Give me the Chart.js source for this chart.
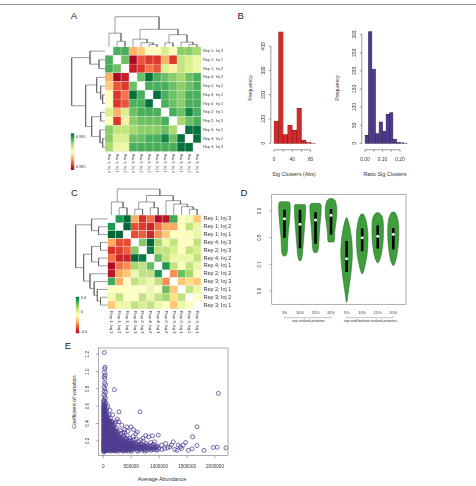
<!DOCTYPE html>
<html><head><meta charset="utf-8">
<script src="https://cdn.jsdelivr.net/npm/chart.js@4.4.0/dist/chart.umd.min.js"></script>
<style>
html,body{margin:0;padding:0;background:#fff;}
body{width:476px;height:486px;position:relative;overflow:hidden;font-family:"Liberation Sans",Arial,sans-serif;}
canvas{position:absolute;}
.t{position:absolute;white-space:nowrap;color:#333;transform:translate(-50%,-50%);line-height:1;}
.r{transform:translate(-50%,-50%) rotate(-90deg);}
.L{font-size:9.5px;color:#222;}
</style></head><body>
<div style="position:absolute;left:0;top:4px;width:476px;height:1px;background:#8f8f8f"></div>
<div class="t L" style="left:74px;top:15.5px">A</div>
<div class="t L" style="left:240.7px;top:15.5px">B</div>
<div class="t L" style="left:74.5px;top:193px">C</div>
<div class="t L" style="left:244px;top:193.3px">D</div>
<div class="t L" style="left:68px;top:346px">E</div>
<div class="t r" style="left:251px;top:87.5px;font-size:5.4px">Frequency</div>
<div class="t" style="left:294px;top:174.5px;font-size:5.4px">Sig Clusters (Abs)</div>
<div class="t r" style="left:338px;top:87.5px;font-size:5.4px">Frequency</div>
<div class="t" style="left:385px;top:174.6px;font-size:5.4px">Ratio Sig Clusters</div>
<div class="t r" style="left:75px;top:402px;font-size:5.4px">Coefficient of variation</div>
<div class="t" style="left:162px;top:480px;font-size:5.4px">Average Abundance</div>
<div class="t" style="left:308.5px;top:321.5px;font-size:3.8px">top ranked proteins</div>
<div class="t" style="left:370.5px;top:321.5px;font-size:3.8px">top and bottom ranked proteins</div>
<script>
const FONT = '"Liberation Sans", Arial, sans-serif';
Chart.defaults.font.family = FONT;

// ================= DATA =================
// Panel A: correlation heatmap (row order = column order)
const labelsA = ['Rep 1;  Inj 3','Rep 1;  Inj 1','Rep 1;  Inj 2','Rep 4;  Inj 3','Rep 2;  Inj 2','Rep 4;  Inj 2','Rep 4;  Inj 1','Rep 2;  Inj 1','Rep 2;  Inj 3','Rep 3;  Inj 1','Rep 3;  Inj 2','Rep 3;  Inj 3'];
const corrAUpper = [
 [0.9942,0.9942,0.9876,0.9882,0.9900,0.9900,0.9912,0.9900,0.9930,0.9930,0.9924],
 [0.9936,0.9840,0.9858,0.9852,0.9852,0.9876,0.9852,0.9918,0.9912,0.9906],
 [0.9846,0.9852,0.9864,0.9858,0.9912,0.9894,0.9918,0.9912,0.9906],
 [0.9936,0.9960,0.9942,0.9936,0.9930,0.9924,0.9936,0.9942],
 [0.9942,0.9942,0.9942,0.9936,0.9930,0.9936,0.9942],
 [0.9960,0.9942,0.9936,0.9930,0.9942,0.9942],
 [0.9942,0.9936,0.9930,0.9942,0.9942],
 [0.9942,0.9936,0.9954,0.9942],
 [0.9924,0.9936,0.9942],
 [0.9960,0.9960],
 [0.9960]
];
const keyRangeA = [0.9838, 0.9962];
const keyTicksA = [0.985, 0.995];
const keyTickLabelsA = ['0.985', '0.995'];
// dendrogram A (hclust style merges: negative = leaf in display order)
const treeAMerges = [[-6,-7],[-11,-12],[-5,1],[-8,-9],[-10,2],[-2,-3],[-4,3],[4,5],[-1,6],[7,8],[9,10]];
const treeAHeights = [0.07,0.07,0.13,0.13,0.15,0.18,0.25,0.40,0.45,0.58,1.0];

// Panel B: histograms
const histAbsMid = [5,15,25,35,45,55,65,75,85];
const histAbsCount = [92,459,36,75,54,144,13,4,1];
const histAbsXTicks = [0,20,40,60,80];
const histAbsXLabels = ['0','','40','','80'];
const histAbsYTicks = [0,100,200,300,400];
const histAbsYLabels = ['0','100','200','300','400'];
const histRatioMid = [0.01,0.03,0.05,0.07,0.09,0.11,0.13,0.15,0.17,0.19,0.21,0.23];
const histRatioCount = [22,308,205,27,59,34,80,85,12,3,2,1];
const histRatioXTicks = [0,0.05,0.10,0.15,0.20];
const histRatioXLabels = ['0.00','','0.10','','0.20'];
const histRatioYTicks = [0,50,100,150,200,250,300];
const histRatioYLabels = ['0','50','100','150','200','250','300'];

// Panel C: correlation heatmap
const labelsC = ['Rep 1; Inj 3','Rep 1; Inj 2','Rep 1; Inj 1','Rep 4; Inj 3','Rep 2; Inj 3','Rep 4; Inj 2','Rep 4; Inj 1','Rep 2; Inj 2','Rep 3; Inj 3','Rep 2; Inj 1','Rep 3; Inj 2','Rep 3; Inj 1'];
const corrCUpper = [
 [0.34,0.45,-0.31,-0.52,-0.41,-0.60,-0.58,0.29,-0.09,-0.06,-0.25],
 [0.45,-0.47,-0.50,-0.55,-0.41,-0.31,-0.31,-0.09,0.07,-0.04],
 [-0.47,-0.44,-0.55,-0.36,-0.25,-0.09,-0.09,-0.09,-0.04],
 [0.18,0.45,0.13,-0.04,0.07,-0.09,-0.09,0.07],
 [0.40,0.07,0.07,0.02,-0.09,0.07,0.02],
 [0.23,0.07,-0.04,-0.04,-0.04,0.07],
 [0.34,0.07,-0.09,0.07,-0.04],
 [-0.36,0.23,0.13,-0.09],
 [-0.25,-0.20,-0.25],
 [0.07,-0.04],
 [-0.09]
];
const keyRangeC = [-0.63, 0.45];
const keyTicksC = [-0.6, 0, 0.4];
const keyTickLabelsC = ['-0.6', '0', '0.4'];
const treeCMerges = [[-2,-3],[-1,1],[-4,-5],[-6,-7],[3,4],[-11,-12],[-10,6],[-9,7],[-8,8],[5,9],[2,10]];
const treeCHeights = [0.28,0.50,0.22,0.28,0.50,0.22,0.32,0.42,0.55,0.75,1.0];

// Panel D: violins
const violinPos = [1,2,3,4,5,6,7,8];
const violinLabels = ['5%','10%','15%','20%','5%','10%','15%','20%'];
const violinLevels = [
 [0.731,0.737,0.75,0.77,0.80,0.83,0.86,0.89,0.915,0.93,0.934],
 [0.7125,0.72,0.74,0.77,0.80,0.83,0.86,0.89,0.91,0.92,0.924],
 [0.744,0.75,0.765,0.79,0.82,0.85,0.88,0.905,0.92,0.9275],
 [0.784,0.79,0.81,0.84,0.87,0.89,0.91,0.925,0.94,0.946],
 [0.559,0.58,0.61,0.64,0.68,0.72,0.75,0.79,0.82,0.85,0.874],
 [0.665,0.68,0.70,0.73,0.76,0.79,0.82,0.85,0.87,0.8875],
 [0.706,0.72,0.74,0.77,0.80,0.83,0.86,0.88,0.8925],
 [0.696,0.71,0.73,0.76,0.79,0.82,0.85,0.875,0.895]
];
const violinHalfWidth = [
 [0.05,0.14,0.18,0.20,0.22,0.27,0.32,0.36,0.37,0.35,0.30],
 [0.02,0.10,0.16,0.20,0.24,0.28,0.32,0.35,0.36,0.35,0.32],
 [0.08,0.15,0.19,0.22,0.25,0.29,0.34,0.36,0.36,0.30],
 [0.18,0.21,0.22,0.27,0.34,0.37,0.37,0.33,0.25,0.12],
 [0.02,0.07,0.14,0.22,0.30,0.36,0.37,0.33,0.26,0.16,0.03],
 [0.03,0.12,0.20,0.30,0.35,0.37,0.36,0.30,0.22,0.08],
 [0.03,0.15,0.24,0.32,0.36,0.37,0.35,0.28,0.10],
 [0.03,0.14,0.22,0.30,0.34,0.36,0.34,0.27,0.10]
];
const violinMedian = [0.871,0.850,0.866,0.884,0.721,0.800,0.805,0.8125];
const violinQ1 = [0.800,0.760,0.777,0.812,0.671,0.749,0.759,0.756];
const violinQ3 = [0.905,0.905,0.895,0.907,0.787,0.834,0.846,0.836];
const violinYTicks = [0.6,0.7,0.8,0.9];
const violinYLabels = ['0.6','0.7','0.8','0.9'];

// Panel E: scatter (average abundance, coefficient of variation)
const scatterE = [
 [3000,0.12],[5000,0.18],[8000,0.25],[10000,0.31],[12000,0.38],[15000,0.44],[18000,0.5],[20000,0.56],[22000,0.61],[6000,0.64],
 [4000,0.09],[7000,0.15],[9000,0.21],[11000,0.28],[13000,0.34],[16000,0.41],[19000,0.47],[21000,0.53],[23000,0.58],[14000,0.62],
 [2000,0.23],[5000,0.33],[8000,0.43],[11000,0.52],[14000,0.57],[17000,0.1],[20000,0.16],[24000,0.22],[3000,0.4],[6000,0.48],
 [9000,0.55],[12000,0.14],[16000,0.27],[19000,0.35],[22000,0.4],[25000,0.46],[4000,0.59],[7000,0.37],[10000,0.11],[13000,0.2],
 [18000,0.3],[23000,0.12],[2000,0.5],[15000,0.65],[9000,0.6],
 [18000,1.22],[30000,1.05],[25000,1.03],[20000,0.99],[33000,0.96],[14000,0.94],[28000,0.92],[22000,0.87],[40000,0.85],[12000,0.82],
 [30000,0.8],[17000,0.77],[44000,0.76],[9000,0.73],[26000,0.71],[36000,0.69],[7000,0.67],[21000,0.66],[48000,0.64],[35000,0.62],
 [27000,0.1],[30000,0.15],[33000,0.2],[36000,0.26],[40000,0.31],[43000,0.36],[46000,0.42],[50000,0.47],[54000,0.52],[58000,0.13],
 [28000,0.32],[31000,0.38],[34000,0.44],[38000,0.5],[42000,0.55],[45000,0.09],[48000,0.18],[52000,0.24],[56000,0.3],[29000,0.57],
 [32000,0.27],[37000,0.12],[41000,0.22],[47000,0.34],[53000,0.39],[57000,0.44],[35000,0.48],[44000,0.28],[51000,0.11],[59000,0.21],
 [39000,0.4],[26000,0.52],
 [1000,0.15],[2500,0.28],[4500,0.36],[6500,0.2],[8500,0.32],[10500,0.46],[12500,0.26],[14500,0.09],[16500,0.33],[18500,0.22],
 [20500,0.44],[22500,0.29],[24500,0.36],[26500,0.18],[28500,0.25],[30500,0.43],[32500,0.34],[34500,0.09],[36500,0.37],[38500,0.16],
 [40500,0.46],[42500,0.13],[44500,0.21],[46500,0.5],[48500,0.3],[50500,0.16],[52500,0.44],[54500,0.2],[56500,0.37],[58500,0.27],
 [1500,0.44],[3500,0.53],[5500,0.07],[7500,0.56],[9500,0.17],[11500,0.61],[13500,0.48],[15500,0.54],[17500,0.59],[19500,0.08],
 [21500,0.1],[23500,0.5],[25500,0.3],[27500,0.4],[29500,0.08],[31500,0.5],[33500,0.55],[35500,0.3],[37500,0.24],[39500,0.09],
 [41500,0.35],[43500,0.47],[45500,0.16],[47500,0.26],[49500,0.38],[51500,0.33],[53500,0.1],[55500,0.48],[57500,0.17],[59500,0.41],
 [62000,0.09],[65000,0.14],[68000,0.19],[71000,0.25],[74000,0.3],[77000,0.35],[80000,0.4],[84000,0.45],[88000,0.12],[92000,0.17],
 [96000,0.23],[99000,0.28],[63000,0.33],[67000,0.38],[72000,0.43],[76000,0.48],[81000,0.1],[85000,0.21],[90000,0.32],[94000,0.37],
 [98000,0.15],[70000,0.22],[79000,0.27],[87000,0.42],[64000,0.5],
 [61000,0.2],[64000,0.27],[66000,0.42],[69000,0.11],[71000,0.34],[73000,0.17],[75000,0.39],[78000,0.13],[80000,0.24],[82000,0.31],
 [85000,0.09],[86000,0.36],[89000,0.2],[91000,0.26],[93000,0.11],[95000,0.43],[97000,0.3],[100000,0.19],[101000,0.36],[103000,0.25],
 [102000,0.09],[106000,0.14],[110000,0.2],[114000,0.25],[118000,0.31],[122000,0.36],[126000,0.41],[131000,0.11],[135000,0.17],[139000,0.23],
 [143000,0.28],[147000,0.33],[104000,0.38],[109000,0.44],[116000,0.12],[124000,0.22],[133000,0.3],[141000,0.39],[149000,0.13],[112000,0.29],
 [128000,0.46],[137000,0.08],[145000,0.19],
 [105000,0.31],[107000,0.1],[108000,0.4],[111000,0.16],[113000,0.35],[115000,0.21],[117000,0.43],[119000,0.09],[120000,0.17],[121000,0.27],
 [123000,0.13],[125000,0.32],[127000,0.19],[129000,0.26],[130000,0.38],[132000,0.14],[134000,0.22],[136000,0.35],[138000,0.29],[140000,0.12],
 [142000,0.18],[144000,0.42],[146000,0.24],[148000,0.1],[150000,0.3],
 [152000,0.1],[156000,0.16],[160000,0.22],[165000,0.27],[170000,0.33],[175000,0.38],[180000,0.12],[185000,0.18],[190000,0.24],[195000,0.3],
 [199000,0.14],[158000,0.35],[167000,0.09],[178000,0.26],[188000,0.36],[163000,0.42],[172000,0.2],[193000,0.09],
 [153000,0.2],[155000,0.29],[157000,0.12],[159000,0.4],[161000,0.15],[162000,0.31],[164000,0.18],[166000,0.24],[168000,0.36],[169000,0.12],
 [171000,0.27],[173000,0.16],[174000,0.3],[176000,0.09],[177000,0.21],[179000,0.33],[181000,0.19],[183000,0.28],[184000,0.1],[186000,0.23],
 [187000,0.14],[189000,0.31],[191000,0.17],[192000,0.27],[194000,0.2],[196000,0.11],[198000,0.25],
 [203000,0.1],[208000,0.15],[213000,0.21],[218000,0.26],[224000,0.31],[230000,0.12],[236000,0.18],[242000,0.23],[248000,0.28],[254000,0.09],
 [258000,0.16],[211000,0.34],[221000,0.08],[233000,0.35],[246000,0.13],[226000,0.2],[205000,0.4],
 [201000,0.18],[204000,0.28],[206000,0.12],[209000,0.23],[212000,0.09],[215000,0.16],[217000,0.31],[219000,0.11],[222000,0.24],[225000,0.14],
 [228000,0.27],[231000,0.17],[234000,0.22],[237000,0.1],[240000,0.3],[243000,0.15],[245000,0.2],[249000,0.12],[251000,0.24],[253000,0.17],
 [256000,0.21],[259000,0.12],
 [263000,0.1],[270000,0.15],[277000,0.2],[284000,0.25],[291000,0.11],[298000,0.17],[305000,0.22],[312000,0.28],[319000,0.12],[326000,0.09],
 [267000,0.3],[281000,0.14],[295000,0.32],[309000,0.16],[323000,0.2],[274000,0.08],[288000,0.19],[302000,0.1],[276000,0.42],
 [262000,0.26],[265000,0.18],[268000,0.12],[272000,0.23],[275000,0.1],[279000,0.17],[283000,0.21],[286000,0.13],[290000,0.24],[293000,0.16],
 [297000,0.12],[300000,0.19],
 [334000,0.1],[342000,0.15],[350000,0.2],[358000,0.26],[366000,0.11],[374000,0.17],[382000,0.22],[390000,0.09],[398000,0.14],[406000,0.19],
 [414000,0.12],[346000,0.29],[362000,0.08],[378000,0.3],[394000,0.24],[410000,0.1],[338000,0.23],[386000,0.13],
 [306000,0.13],[311000,0.18],[315000,0.1],[318000,0.24],[322000,0.15],[328000,0.18],[332000,0.13],[336000,0.2],[340000,0.11],[345000,0.17],
 [349000,0.09],[353000,0.14],[356000,0.21],[360000,0.12],[364000,0.17],[369000,0.14],[372000,0.1],[376000,0.2],[380000,0.15],[384000,0.11],
 [388000,0.18],[392000,0.13],[396000,0.1],[400000,0.17],[404000,0.12],[408000,0.22],[412000,0.15],[416000,0.09],[420000,0.14],
 [425000,0.1],[435000,0.15],[445000,0.2],[455000,0.11],[465000,0.17],[475000,0.23],[485000,0.09],[495000,0.14],[505000,0.19],[515000,0.12],
 [430000,0.26],[450000,0.08],[470000,0.13],[490000,0.21],[510000,0.08],[440000,0.31],
 [428000,0.18],[433000,0.11],[438000,0.13],[443000,0.16],[448000,0.12],[453000,0.19],[458000,0.14],[463000,0.1],[468000,0.2],[473000,0.12],
 [478000,0.16],[483000,0.13],[488000,0.17],[493000,0.11],[498000,0.1],[503000,0.15],[508000,0.12],[513000,0.17],
 [525000,0.1],[540000,0.16],[555000,0.21],[570000,0.11],[585000,0.17],[600000,0.09],[615000,0.14],[630000,0.19],[645000,0.1],[535000,0.25],
 [560000,0.13],[590000,0.22],[620000,0.08],[640000,0.15],[580000,0.28],
 [520000,0.14],[528000,0.12],[533000,0.18],[545000,0.11],[550000,0.14],[565000,0.16],[575000,0.13],[595000,0.12],[605000,0.16],[625000,0.11],
 [635000,0.13],[650000,0.15],
 [660000,0.11],[675000,0.16],[690000,0.09],[705000,0.14],[720000,0.19],[735000,0.1],[750000,0.13],[765000,0.17],[780000,0.09],[795000,0.12],
 [670000,0.21],[710000,0.23],[745000,0.08],[685000,0.13],
 [665000,0.13],[680000,0.11],[695000,0.16],[700000,0.12],[715000,0.11],[725000,0.15],[740000,0.12],[755000,0.1],[770000,0.14],[785000,0.12],
 [800000,0.15],[825000,0.12],[845000,0.11],[865000,0.14],[885000,0.1],[905000,0.13],[930000,0.12],[950000,0.1],[975000,0.14],
 [815000,0.1],[835000,0.14],[855000,0.09],[875000,0.12],[895000,0.16],[915000,0.1],[940000,0.13],[965000,0.09],[990000,0.11],[850000,0.18],
 [197000,0.79],[281000,0.535],[657000,0.535],[496000,0.36],[2060000,0.748],[1678000,0.362],[1600000,0.246],[2197000,0.119],[1970000,0.123],[2040000,0.127],
 [1803000,0.089],[1678000,0.145],[1590000,0.107],[1475000,0.181],[1253000,0.188],[1117000,0.169],[985000,0.266],[881000,0.258],[811000,0.246],[917000,0.188],
 [1045000,0.15],[1190000,0.13],[1340000,0.15],[1400000,0.11],[1280000,0.1],[1100000,0.11],[955000,0.13],[1050000,0.1],[1150000,0.12],[1220000,0.15],
 [1320000,0.09],[1380000,0.13],[1520000,0.09],[1430000,0.15],[760000,0.26],[610000,0.3],[540000,0.33],[420000,0.36],[330000,0.38],[250000,0.45],
 [170000,0.5],[120000,0.55],[80000,0.6],[60000,0.58],[100000,0.5],[230000,0.42],[380000,0.33]
];
const scatterXTicks = [0,500000,1000000,1500000,2000000];
const scatterXLabels = ['0','500000','1000000','1500000','2000000'];
const scatterYTicks = [0.2,0.4,0.6,0.8,1.0,1.2];
const scatterYLabels = ['0.2','0.4','0.6','0.8','1.0','1.2'];

// ================= HELPERS =================
const RDYLGN = ['#a50026','#d73027','#f46d43','#fdae61','#fee08b','#ffffbf','#d9ef8b','#a6d96a','#66bd63','#1a9850','#006837'];
function hexRgb(h){return [parseInt(h.slice(1,3),16),parseInt(h.slice(3,5),16),parseInt(h.slice(5,7),16)];}
function ramp(t){
  t = Math.max(0, Math.min(1, t));
  const p = t*(RDYLGN.length-1); const i = Math.min(Math.floor(p), RDYLGN.length-2); const f = p-i;
  const a = hexRgb(RDYLGN[i]), b = hexRgb(RDYLGN[i+1]);
  return 'rgb(' + a.map((v,k)=>Math.round(v+(b[k]-v)*f)).join(',') + ')';
}
function fullMatrix(upper){
  const n = upper.length+1;
  const m = Array.from({length:n},()=>Array(n).fill(null));
  upper.forEach((row,i)=>row.forEach((v,k)=>{const j=i+1+k; m[i][j]=v; m[j][i]=v;}));
  return m;
}

const rPlugin = {
  id:'rdraw',
  afterDraw(chart){
    const o = chart.options.plugins.rdraw; if(!o) return;
    const ctx = chart.ctx, a = chart.chartArea;
    ctx.save();
    if (o.box){ ctx.strokeStyle=o.box; ctx.lineWidth=0.7; ctx.strokeRect(a.left, a.top, a.right-a.left, a.bottom-a.top); }
    (o.axes||[]).forEach(ax=>{
      const sc = chart.scales[ax.scale];
      const pos = ax.values.map(v=>sc.getPixelForValue(v));
      ctx.strokeStyle = ax.color||'#555'; ctx.lineWidth = ax.lw||0.6; ctx.fillStyle = ax.textColor||'#333';
      ctx.font = ax.font;
      if (ax.side==='bottom'){
        const y0 = a.bottom + (ax.offset||0);
        if (ax.line){ ctx.beginPath(); ctx.moveTo(pos[0],y0); ctx.lineTo(pos[pos.length-1],y0); ctx.stroke(); }
        if (ax.tick){ ctx.beginPath(); pos.forEach(p=>{ctx.moveTo(p,y0); ctx.lineTo(p,y0+ax.tick);}); ctx.stroke(); }
        (ax.labels||[]).forEach((t,i)=>{ if(!t) return;
          if (ax.rot){ ctx.save(); ctx.translate(pos[i], y0+ax.gap); ctx.rotate(Math.PI/2); ctx.textAlign='left'; ctx.textBaseline='middle'; ctx.fillText(t,0,0); ctx.restore(); }
          else { ctx.textAlign='center'; ctx.textBaseline='middle'; ctx.fillText(t,pos[i],y0+ax.gap); }
        });
      } else if (ax.side==='left'){
        const x0 = a.left - (ax.offset||0);
        if (ax.line){ ctx.beginPath(); ctx.moveTo(x0,pos[0]); ctx.lineTo(x0,pos[pos.length-1]); ctx.stroke(); }
        if (ax.tick){ ctx.beginPath(); pos.forEach(p=>{ctx.moveTo(x0,p); ctx.lineTo(x0-ax.tick,p);}); ctx.stroke(); }
        (ax.labels||[]).forEach((t,i)=>{ if(!t) return;
          ctx.save(); ctx.translate(x0-ax.gap, pos[i]); ctx.rotate(-Math.PI/2); ctx.textAlign='center'; ctx.textBaseline='middle'; ctx.fillText(t,0,0); ctx.restore();
        });
      } else if (ax.side==='right'){
        const x0 = a.right + (ax.offset||0);
        if (ax.tick){ ctx.beginPath(); pos.forEach(p=>{ctx.moveTo(x0,p); ctx.lineTo(x0+ax.tick,p);}); ctx.stroke(); }
        ctx.textAlign='left'; ctx.textBaseline='middle';
        (ax.labels||[]).forEach((t,i)=>{ if(t) ctx.fillText(t, x0+ax.gap, pos[i]); });
      }
    });
    (o.brackets||[]).forEach(b=>{
      const sc = chart.scales[b.scale];
      const x1 = sc.getPixelForValue(b.from), x2 = sc.getPixelForValue(b.to);
      const y = a.bottom + b.offset;
      ctx.strokeStyle = b.color||'#666'; ctx.lineWidth = 0.5;
      ctx.beginPath(); ctx.moveTo(x1,y-b.h); ctx.lineTo(x1,y); ctx.lineTo(x2,y); ctx.lineTo(x2,y-b.h); ctx.stroke();
    });
    ctx.restore();
  }
};

function mk(rect, area, config){
  const c = document.createElement('canvas');
  c.width = rect[2]; c.height = rect[3];
  c.style.left = rect[0]+'px'; c.style.top = rect[1]+'px';
  c.style.width = rect[2]+'px'; c.style.height = rect[3]+'px';
  document.body.appendChild(c);
  const o = config.options = config.options || {};
  o.responsive = false; o.animation = false; o.devicePixelRatio = 1; o.maintainAspectRatio = false;
  o.layout = {padding:{left:area[0]-rect[0], top:area[1]-rect[1], right:rect[0]+rect[2]-area[2], bottom:rect[1]+rect[3]-area[3]}};
  o.plugins = Object.assign({legend:{display:false}, tooltip:{enabled:false}}, o.plugins||{});
  config.plugins = [rPlugin];
  return new Chart(c, config);
}

function heatmap(rect, area, labels, matrix, lo, hi, rowFont, colFont, rowGap, colGap){
  const n = labels.length;
  const datasets = labels.map((_,j)=>({
    data: labels.map(()=>1),
    backgroundColor: labels.map((_,i)=> matrix[i][j]===null ? '#ffffff' : ramp((matrix[i][j]-lo)/(hi-lo))),
    borderColor:'rgba(235,235,235,0.9)', borderWidth:0.5, borderSkipped:false,
    barPercentage:1, categoryPercentage:1, stack:'s'
  }));
  return mk(rect, area, {type:'bar', data:{labels, datasets}, options:{indexAxis:'y',
    scales:{x:{type:'linear',min:0,max:n,stacked:true,display:false}, y:{type:'category',stacked:true,display:false,offset:true}},
    plugins:{rdraw:{axes:[
      {scale:'y', side:'right', values: labels.map((_,i)=>i), labels: labels, font: rowFont, gap: rowGap, textColor:'#333'},
      {scale:'x', side:'bottom', values: labels.map((_,j)=>j+0.5), labels: labels, font: colFont, gap: colGap, rot:true, textColor:'#333'}
    ]}}}});
}

function dendro(rect, area, merges, heights, n, orient){
  const pos = [];
  const nodePos = k => k<0 ? (-k-0.5) : pos[k-1];
  const nodeH = k => k<0 ? 0 : heights[k-1];
  const datasets = merges.map(([l,r],m)=>{
    const xl=nodePos(l), xr=nodePos(r), hl=nodeH(l), hr=nodeH(r), h=heights[m];
    pos[m] = (xl+xr)/2;
    const pts = [[xl,hl],[xl,h],[xr,h],[xr,hr]].map(([p,hh])=> orient==='left' ? {x:hh,y:p} : {x:p,y:hh});
    return {data:pts, showLine:true, borderColor:'#5a5a5a', borderWidth:0.6, pointRadius:0, fill:false, tension:0};
  });
  const hmax = Math.max(...heights);
  const scales = orient==='left'
    ? {x:{type:'linear',min:0,max:hmax,reverse:true,display:false}, y:{type:'linear',min:0,max:n,reverse:true,display:false}}
    : {x:{type:'linear',min:0,max:n,display:false}, y:{type:'linear',min:0,max:hmax,display:false}};
  return mk(rect, area, {type:'scatter', data:{datasets}, options:{scales, clip:false}});
}

function colorKey(rect, area, range, ticks, tickLabels, font){
  const N = 40, datasets = [];
  for (let k=0;k<N;k++){
    const v0 = range[0]+(range[1]-range[0])*k/N, v1 = range[0]+(range[1]-range[0])*(k+1)/N;
    datasets.push({data:[[v0,v1]], backgroundColor: ramp((k+0.5)/N), borderWidth:0, barPercentage:1, categoryPercentage:1});
  }
  return mk(rect, area, {type:'bar', data:{labels:['key'], datasets}, options:{
    scales:{x:{stacked:true,display:false}, y:{min:range[0],max:range[1],display:false}},
    plugins:{rdraw:{axes:[{scale:'y', side:'right', values:ticks, labels:tickLabels, font, gap:1.8, tick:1, color:'#777'}]}}}});
}

// ================= PANEL A =================
const matA = fullMatrix(corrAUpper);
heatmap([60,40,200,140],[105,46.7,201,151.7], labelsA, matA, keyRangeA[0], keyRangeA[1], '3.7px '+FONT, '3.5px '+FONT, 2.2, 2);
dendro([100,12,110,38],[105,16.7,201,46.7], treeAMerges, treeAHeights, 12, 'top');
dendro([66,42,42,112],[71.7,46.7,105,151.7], treeAMerges, treeAHeights, 12, 'left');
colorKey([66,128,30,48],[70.8,133.3,74.2,170], keyRangeA, keyTicksA, keyTickLabelsA, '3.8px '+FONT);

// ================= PANEL B =================
function hist(rect, area, mids, counts, xr, yr, fill, border, xt, xl, yt, yl){
  return mk(rect, area, {type:'bar', data:{datasets:[{data: mids.map((m,i)=>({x:m,y:counts[i]})),
      backgroundColor:fill, borderColor:border, borderWidth:0.5, borderSkipped:false, barPercentage:1, categoryPercentage:1, grouped:false}]},
    options:{scales:{x:{type:'linear',min:xr[0],max:xr[1],display:false,offset:false}, y:{min:yr[0],max:yr[1],display:false}},
      plugins:{rdraw:{axes:[
        {scale:'x', side:'bottom', values:xt, labels:xl, line:true, tick:2, offset:2, gap:10, font:'4.8px '+FONT},
        {scale:'y', side:'left', values:yt, labels:yl, line:true, tick:2, offset:1.5, gap:7.5, font:'4.8px '+FONT}
      ]}}}});
}
hist([240,20,90,160],[272.35,27.2,316.8,147.8], histAbsMid, histAbsCount, [-3.6,93.6], [-18.4,478.4], '#d12a2a', '#7a1010', histAbsXTicks, histAbsXLabels, histAbsYTicks, histAbsYLabels);
hist([330,20,90,160],[363.3,27.2,408.7,147.8], histRatioMid, histRatioCount, [-0.0096,0.2496], [-12.3,320.3], '#4f3b8b', '#241a45', histRatioXTicks, histRatioXLabels, histRatioYTicks, histRatioYLabels);

// ================= PANEL C =================
const matC = fullMatrix(corrCUpper);
heatmap([60,205,200,135],[107.5,215,201,309], labelsC, matC, keyRangeC[0], keyRangeC[1], '5.4px '+FONT, '4.4px '+FONT, 2.6, 2);
dendro([100,184,110,32],[107.5,189,201,215], treeCMerges, treeCHeights, 12, 'top');
dendro([70,210,42,104],[75.7,215,107.5,309], treeCMerges, treeCHeights, 12, 'left');
colorKey([70,292,30,46],[75.8,296.7,79,333.3], keyRangeC, keyTicksC, keyTickLabelsC, '3.8px '+FONT);

// ================= PANEL D =================
(function(){
  const ds = [];
  violinPos.forEach((p,v)=>{
    const lv = violinLevels[v], hw = violinHalfWidth[v];
    const left = lv.map((y,i)=>({x:p-hw[i], y}));
    const right = lv.map((y,i)=>({x:p+hw[i], y})).reverse();
    const poly = left.concat(right); poly.push(left[0]);
    ds.push({data:poly, showLine:true, fill:'shape', backgroundColor:'#3f9e3c', borderColor:'#2a6e27', borderWidth:0.6, pointRadius:0, tension:0.25, order:3});
  });
  violinPos.forEach((p,v)=>{
    ds.push({data:[{x:p,y:violinQ1[v]},{x:p,y:violinQ3[v]}], showLine:true, borderColor:'#000', borderWidth:2.6, pointRadius:0, fill:false, borderCapStyle:'butt', order:2});
  });
  ds.push({data: violinPos.map((p,v)=>({x:p,y:violinMedian[v]})), showLine:false, pointRadius:1.5, pointBackgroundColor:'#fff', pointBorderColor:'#fff', pointBorderWidth:0, borderWidth:0, order:1});
  mk([245,185,170,145],[271.7,194.3,406,304.3], {type:'scatter', data:{datasets:ds}, options:{
    scales:{x:{type:'linear',min:0.18,max:8.82,display:false}, y:{type:'linear',min:0.550,max:0.9626,display:false}},
    plugins:{rdraw:{box:'#888', axes:[
      {scale:'y', side:'left', values:violinYTicks, labels:violinYLabels, tick:2.5, gap:12.4, font:'4.6px '+FONT, color:'#777'},
      {scale:'x', side:'bottom', values:violinPos, labels:violinLabels, gap:9, font:'3.9px '+FONT}
    ], brackets:[{scale:'x',from:1,to:4,offset:13.4,h:1.5,color:'#888'},{scale:'x',from:5,to:8,offset:13.4,h:1.5,color:'#888'}]}}}});
})();

// ================= PANEL E =================
mk([60,340,180,146],[98.5,348,228,455.5], {type:'scatter', data:{datasets:[{data: scatterE.map(([x,y])=>({x,y})),
    pointRadius:2.0, pointBorderWidth:0.85, pointBorderColor:'rgba(80,60,145,0.9)', pointBackgroundColor:'rgba(0,0,0,0)'}]},
  options:{scales:{x:{type:'linear',min:-86000,max:2233000,display:false}, y:{type:'linear',min:0.03,max:1.272,display:false}},
    plugins:{rdraw:{box:'#888', axes:[
      {scale:'y', side:'left', values:scatterYTicks, labels:scatterYLabels, tick:2.5, gap:10.5, font:'4.6px '+FONT, color:'#777'},
      {scale:'x', side:'bottom', values:scatterXTicks, labels:scatterXLabels, tick:2.5, gap:11.5, font:'4.6px '+FONT, color:'#777'}
    ]}}}});
</script>
</body></html>
